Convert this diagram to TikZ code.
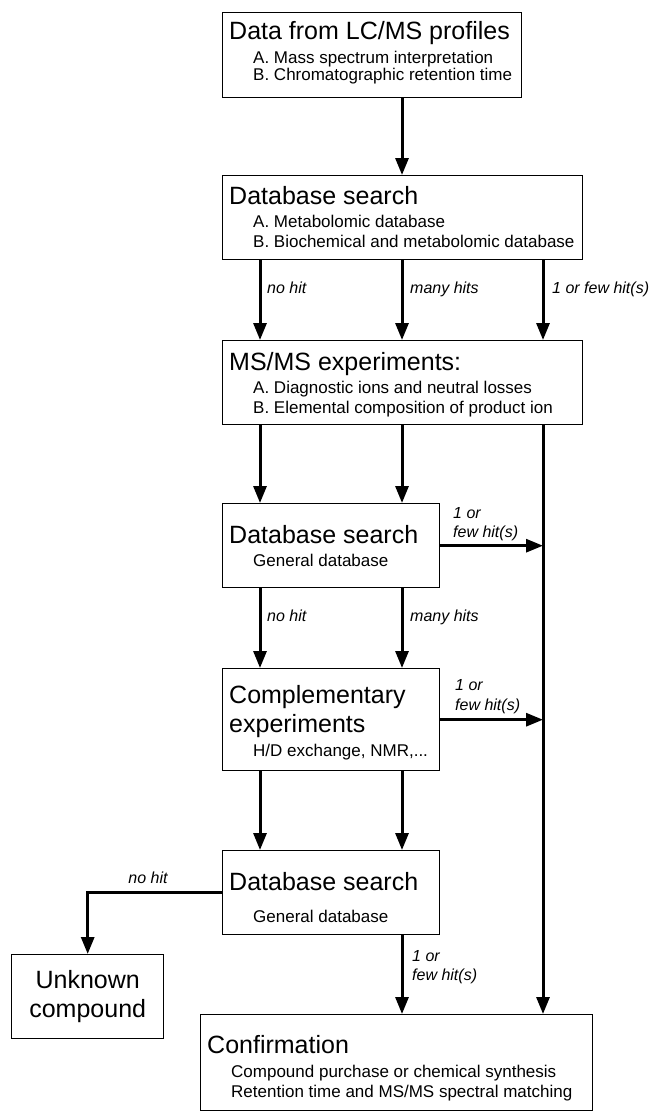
\documentclass[tikz,border=0pt]{standalone}
\usepackage{fontspec}
\setmainfont{Liberation Sans}
\usetikzlibrary{calc,positioning,arrows.meta}

\tikzset{
  box/.style={draw,line width=1.4pt,rectangle,anchor=north west,inner sep=0pt},
  title/.style={anchor=base west,inner sep=0pt,font=\fontsize{25}{29}\selectfont},
  sub/.style={anchor=base west,inner sep=0pt,font=\fontsize{17}{20}\selectfont},
  hit/.style={anchor=base west,inner sep=0pt,font=\fontsize{16}{19}\selectfont\itshape},
  flow/.style={line width=3pt,-{Triangle[length=17pt,width=13pt]}}
}

\begin{document}
\begin{tikzpicture}[x=1pt,y=-1pt]
  \useasboundingbox (0,0) rectangle (655,1114);

  % columns of the vertical connectors
  \coordinate (col_a) at (260,0);
  \coordinate (col_b) at (402,0);
  \coordinate (col_c) at (543,0);

  % boxes
  \node [box, minimum width=299pt, minimum height=85pt] at(222,12) (profiles) {};
  \node [box, minimum width=360pt, minimum height=84pt] at(222,175) (dbmain) {};
  \node [box, minimum width=360pt, minimum height=84pt] at(222,340) (msms) {};
  \node [box, minimum width=217pt, minimum height=84pt] at(222,503) (dbgen) {};
  \node [box, minimum width=217pt, minimum height=102pt] at(222,668) (compl) {};
  \node [box, minimum width=217pt, minimum height=84pt] at(222,850) (dbgentwo) {};
  \node [box, minimum width=152pt, minimum height=84pt] at(11,954) (unknown) {};
  \node [box, minimum width=392pt, minimum height=96pt] at(200,1014) (confirm) {};

  % texts in the boxes
  \node [title] at($(profiles.north west)+(7,27)$) (profiles_title) {Data from LC/MS profiles};
  \node [sub] at($(profiles.north west)+(31,51)$) (profiles_a) {A. Mass spectrum interpretation};
  \node [sub] at($(profiles.north west)+(31,68)$) (profiles_b) {B. Chromatographic retention time};

  \node [title] at($(dbmain.north west)+(7,29)$) (dbmain_title) {Database search};
  \node [sub] at($(dbmain.north west)+(31,52)$) (dbmain_a) {A. Metabolomic database};
  \node [sub] at($(dbmain.north west)+(31,72)$) (dbmain_b) {B. Biochemical and metabolomic database};

  \node [title] at($(msms.north west)+(7,30)$) (msms_title) {MS/MS experiments:};
  \node [sub] at($(msms.north west)+(31,53)$) (msms_a) {A. Diagnostic ions and neutral losses};
  \node [sub] at($(msms.north west)+(31,73)$) (msms_b) {B. Elemental composition of product ion};

  \node [title] at($(dbgen.north west)+(7,40)$) (dbgen_title) {Database search};
  \node [sub] at($(dbgen.north west)+(31,63)$) (dbgen_a) {General database};

  \node [title] at($(compl.north west)+(7,35)$) (compl_title) {Complementary};
  \node [title] at($(compl.north west)+(7,64)$) (compl_title_b) {experiments};
  \node [sub] at($(compl.north west)+(31,88)$) (compl_a) {H/D exchange, NMR,...};

  \node [title] at($(dbgentwo.north west)+(7,40)$) (dbgentwo_title) {Database search};
  \node [sub] at($(dbgentwo.north west)+(31,72)$) (dbgentwo_a) {General database};

  \node [title, anchor=base] at($(unknown.north)+(0,34)$) (unknown_a) {Unknown};
  \node [title, anchor=base] at($(unknown.north)+(0,63)$) (unknown_b) {compound};

  \node [title] at($(confirm.north west)+(7,39)$) (confirm_title) {Confirmation};
  \node [sub] at($(confirm.north west)+(31,63)$) (confirm_a) {Compound purchase or chemical synthesis};
  \node [sub] at($(confirm.north west)+(31,83)$) (confirm_b) {Retention time and MS/MS spectral matching};

  % connectors
  \draw[flow] (profiles.south -| col_b) -- (dbmain.north -| col_b);

  \draw[flow] (dbmain.south -| col_a) -- (msms.north -| col_a);
  \draw[flow] (dbmain.south -| col_b) -- (msms.north -| col_b);
  \draw[flow] (dbmain.south -| col_c) -- (msms.north -| col_c);
  \node [hit] at(267,293) (dbmain_nohit) {no hit};
  \node [hit] at(410,293) (dbmain_many) {many hits};
  \node [hit] at(552,293) (dbmain_few) {1 or few hit(s)};

  \draw[flow] (msms.south -| col_a) -- (dbgen.north -| col_a);
  \draw[flow] (msms.south -| col_b) -- (dbgen.north -| col_b);
  \draw[flow] (msms.south -| col_c) -- (confirm.north -| col_c);

  \draw[flow] (dbgen.east) -- (dbgen.east -| col_c);
  \node [hit] at(453,518) (dbgen_few_a) {1 or};
  \node [hit] at(453,537) (dbgen_few_b) {few hit(s)};

  \draw[flow] (dbgen.south -| col_a) -- (compl.north -| col_a);
  \draw[flow] (dbgen.south -| col_b) -- (compl.north -| col_b);
  \node [hit] at(267,621) (dbgen_nohit) {no hit};
  \node [hit] at(410,621) (dbgen_many) {many hits};

  \draw[flow] (compl.east) -- (compl.east -| col_c);
  \node [hit] at(455,690) (compl_few_a) {1 or};
  \node [hit] at(455,710) (compl_few_b) {few hit(s)};

  \draw[flow] (compl.south -| col_a) -- (dbgentwo.north -| col_a);
  \draw[flow] (compl.south -| col_b) -- (dbgentwo.north -| col_b);

  \draw[flow] (dbgentwo.west) -| (unknown.north);
  \node [hit, anchor=base] at(148,883) (dbgentwo_nohit) {no hit};

  \draw[flow] (dbgentwo.south -| col_b) -- (confirm.north -| col_b);
  \node [hit] at(412,961) (dbgentwo_few_a) {1 or};
  \node [hit] at(412,980) (dbgentwo_few_b) {few hit(s)};
\end{tikzpicture}
\end{document}
